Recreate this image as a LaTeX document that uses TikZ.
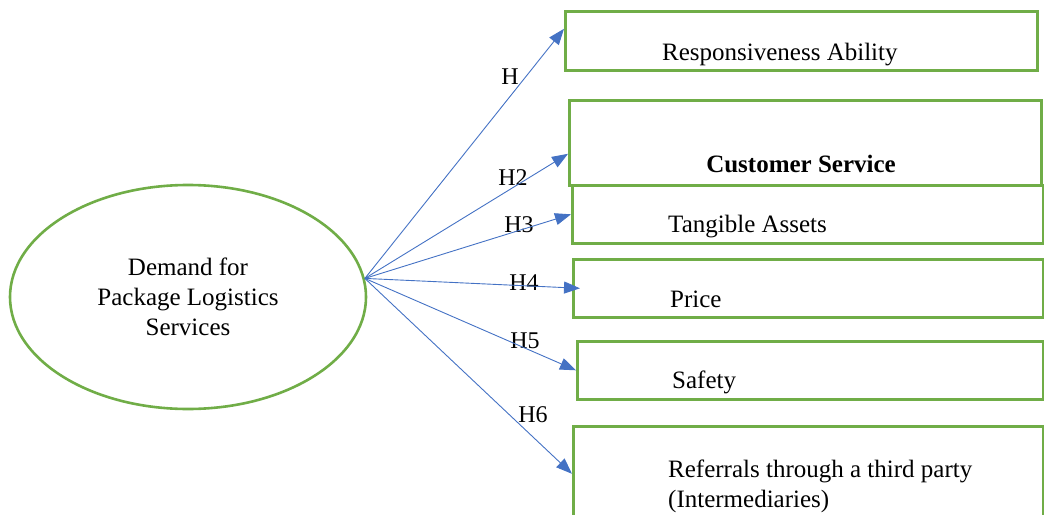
\documentclass[tikz,border=0pt]{standalone}
\usepackage{fontspec}
\setmainfont{Liberation Serif}
\usetikzlibrary{arrows.meta,shapes.geometric}

\definecolor{boxgreen}{RGB}{112,173,71}
\definecolor{arrowblue}{RGB}{68,114,196}

\tikzset{
	factor/.style={draw=boxgreen, line width=2.6pt, anchor=north west, inner sep=0pt},
	hyp/.style={draw=arrowblue, line width=0.9pt, -{Triangle[length=16pt,width=12pt]}},
	txt/.style={font=\fontsize{25}{30}\selectfont, inner sep=0pt},
	hlabel/.style={font=\fontsize{24}{28}\selectfont, inner sep=0pt},
}

\begin{document}
\begin{tikzpicture}[x=1pt,y=-1pt]
	\clip (0,0) rectangle (1044,514);

	% construct
	\node[txt, draw=boxgreen, line width=2.6pt, ellipse, minimum width=356pt, minimum height=224pt, align=center] (dem) at (188,297) {Demand for\\Package Logistics\\Services};

	% factors
	\node[factor, minimum width=472pt, minimum height=59pt] (resp) at (564,10) {};
	\node[factor, minimum width=472pt, minimum height=85pt] (cust) at (568,99) {};
	\node[factor, minimum width=471pt, minimum height=58pt] (tang) at (571,184) {};
	\node[factor, minimum width=470pt, minimum height=58pt] (price) at (572,258) {};
	\node[factor, minimum width=466pt, minimum height=58pt] (safe) at (576,340) {};
	\node[factor, minimum width=470pt, minimum height=115pt] (refer) at (572,425) {};

	\node[txt, anchor=base west] (resptxt) at (662,60) {Responsiveness Ability};
	\node[txt, anchor=base, font=\fontsize{25}{30}\selectfont\bfseries] (custtxt) at (801,172) {Customer Service};
	\node[txt, anchor=base west] (tangtxt) at (668,232) {Tangible Assets};
	\node[txt, anchor=base west] (pricetxt) at (670,307) {Price};
	\node[txt, anchor=base west] (safetxt) at (672,388) {Safety};
	\node[txt, anchor=base west, align=left] (refertxt) at (668,507) {Referrals through a third party\\(Intermediaries)};

	% hypotheses
	\node[hlabel] (h1) at (510,77) {H};
	\node[hlabel] (h2) at (513,178) {H2};
	\node[hlabel] (h3) at (519,225) {H3};
	\node[hlabel] (h4) at (524,283) {H4};
	\node[hlabel] (h5) at (525,341) {H5};
	\node[hlabel] (h6) at (533,415) {H6};

	\draw[hyp] (dem.6) -- ([yshift=12pt]resp.west);
	\draw[hyp] (dem.6) -- ([yshift=-11pt]cust.west);
	\draw[hyp] (dem.6) -- (tang.west);
	\draw[hyp] (dem.6) -- ([xshift=8pt]price.west);
	\draw[hyp] (dem.6) -- (safe.west);
	\draw[hyp] (dem.6) -- ([yshift=10pt]refer.west);
\end{tikzpicture}
\end{document}
